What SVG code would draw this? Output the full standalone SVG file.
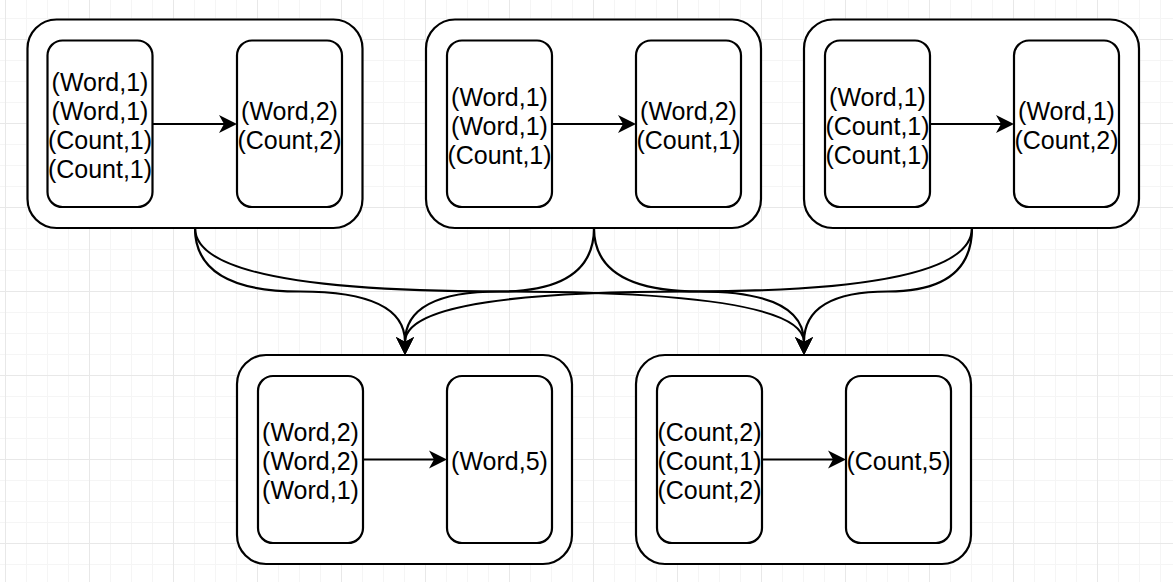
<svg xmlns="http://www.w3.org/2000/svg" width="1173" height="582" viewBox="0 0 1173 582">
  <style>
    .outer { fill: #ffffff; stroke: #000000; stroke-width: 2.2; }
    .inner { fill: #ffffff; stroke: #000000; stroke-width: 2.2; }
    .lbl { font-family: "Liberation Sans", Arial, Helvetica, sans-serif; font-size: 25px; fill: #000000; text-anchor: middle; }
    .edge { fill: none; stroke: #000000; stroke-width: 2.2; marker-end: url(#arrow); }
  </style>
  <defs>
    <pattern id="grid" patternUnits="userSpaceOnUse" x="5" y="39" width="84" height="84">
      <rect x="0" y="0" width="84" height="84" fill="#ffffff"/>
      <rect x="21" y="0" width="1" height="84" fill="#f5f5f5"/>
      <rect x="42" y="0" width="1" height="84" fill="#f5f5f5"/>
      <rect x="63" y="0" width="1" height="84" fill="#f5f5f5"/>
      <rect x="0" y="21" width="84" height="1" fill="#f5f5f5"/>
      <rect x="0" y="42" width="84" height="1" fill="#f5f5f5"/>
      <rect x="0" y="63" width="84" height="1" fill="#f5f5f5"/>
      <rect x="0" y="0" width="1" height="84" fill="#e8e8e8"/>
      <rect x="0" y="0" width="84" height="1" fill="#e8e8e8"/>
    </pattern>
    <marker id="arrow" markerUnits="userSpaceOnUse" markerWidth="20" markerHeight="20" refX="5" refY="9" orient="auto" overflow="visible">
      <path d="M0,0 L18,9 L0,18 L5,9 Z" fill="#000000" stroke="none"/>
    </marker>
  </defs>

  <rect x="0" y="0" width="1173" height="582" fill="url(#grid)"/>

  <!-- Top row: map stages -->
  <g id="map1">
    <rect class="outer" x="27.5" y="19.5" width="335" height="208.5" rx="29" ry="29"/>
    <g id="map1-input">
      <rect class="inner" x="47.5" y="40.5" width="105" height="166.5" rx="15" ry="15"/>
      <text class="lbl" x="100" y="91">(Word,1)</text>
      <text class="lbl" x="100" y="120">(Word,1)</text>
      <text class="lbl" x="100" y="149">(Count,1)</text>
      <text class="lbl" x="100" y="178">(Count,1)</text>
    </g>
    <g id="map1-output">
      <rect class="inner" x="237" y="40.5" width="105" height="166.5" rx="15" ry="15"/>
      <text class="lbl" x="289.5" y="120">(Word,2)</text>
      <text class="lbl" x="289.5" y="149">(Count,2)</text>
    </g>
  </g>

  <g id="map2">
    <rect class="outer" x="426" y="19.5" width="335" height="208.5" rx="29" ry="29"/>
    <g id="map2-input">
      <rect class="inner" x="447" y="40.5" width="105" height="166.5" rx="15" ry="15"/>
      <text class="lbl" x="499.5" y="105.5">(Word,1)</text>
      <text class="lbl" x="499.5" y="134.5">(Word,1)</text>
      <text class="lbl" x="499.5" y="163.5">(Count,1)</text>
    </g>
    <g id="map2-output">
      <rect class="inner" x="636" y="40.5" width="105" height="166.5" rx="15" ry="15"/>
      <text class="lbl" x="688.5" y="120">(Word,2)</text>
      <text class="lbl" x="688.5" y="149">(Count,1)</text>
    </g>
  </g>

  <g id="map3">
    <rect class="outer" x="804" y="19.5" width="335" height="208.5" rx="29" ry="29"/>
    <g id="map3-input">
      <rect class="inner" x="825" y="40.5" width="105" height="166.5" rx="15" ry="15"/>
      <text class="lbl" x="877.5" y="105.5">(Word,1)</text>
      <text class="lbl" x="877.5" y="134.5">(Count,1)</text>
      <text class="lbl" x="877.5" y="163.5">(Count,1)</text>
    </g>
    <g id="map3-output">
      <rect class="inner" x="1014" y="40.5" width="105" height="166.5" rx="15" ry="15"/>
      <text class="lbl" x="1066.5" y="120">(Word,1)</text>
      <text class="lbl" x="1066.5" y="149">(Count,2)</text>
    </g>
  </g>

  <!-- Bottom row: reduce stages -->
  <g id="reduce1">
    <rect class="outer" x="237" y="355" width="335" height="209" rx="29" ry="29"/>
    <g id="reduce1-input">
      <rect class="inner" x="258" y="376" width="105" height="167" rx="15" ry="15"/>
      <text class="lbl" x="310.5" y="441">(Word,2)</text>
      <text class="lbl" x="310.5" y="470">(Word,2)</text>
      <text class="lbl" x="310.5" y="499">(Word,1)</text>
    </g>
    <g id="reduce1-output">
      <rect class="inner" x="447" y="376" width="105" height="167" rx="15" ry="15"/>
      <text class="lbl" x="499.5" y="470">(Word,5)</text>
    </g>
  </g>

  <g id="reduce2">
    <rect class="outer" x="636" y="355" width="335" height="209" rx="29" ry="29"/>
    <g id="reduce2-input">
      <rect class="inner" x="657" y="376" width="105" height="167" rx="15" ry="15"/>
      <text class="lbl" x="709.5" y="441">(Count,2)</text>
      <text class="lbl" x="709.5" y="470">(Count,1)</text>
      <text class="lbl" x="709.5" y="499">(Count,2)</text>
    </g>
    <g id="reduce2-output">
      <rect class="inner" x="846" y="376" width="105" height="167" rx="15" ry="15"/>
      <text class="lbl" x="898.5" y="470">(Count,5)</text>
    </g>
  </g>

  <!-- Connectors -->
  <g id="connectors">
    <path class="edge" d="M152.5,124 L224,124"/>
    <path class="edge" d="M552,124 L623,124"/>
    <path class="edge" d="M930,124 L1001,124"/>
    <path class="edge" d="M363,459.5 L434,459.5"/>
    <path class="edge" d="M762,459.5 L833,459.5"/>

    <path class="edge" d="M195,228 Q195,291.5 300,291.5 Q405,291.5 405,342"/>
    <path class="edge" d="M195,228 Q195,291.5 499.5,291.5 Q804,291.5 804,342"/>
    <path class="edge" d="M594,228 Q594,291.5 499.5,291.5 Q405,291.5 405,342"/>
    <path class="edge" d="M594,228 Q594,291.5 699,291.5 Q804,291.5 804,342"/>
    <path class="edge" d="M972,228 Q972,291.5 688.5,291.5 Q405,291.5 405,342"/>
    <path class="edge" d="M972,228 Q972,291.5 888,291.5 Q804,291.5 804,342"/>
  </g>
</svg>
